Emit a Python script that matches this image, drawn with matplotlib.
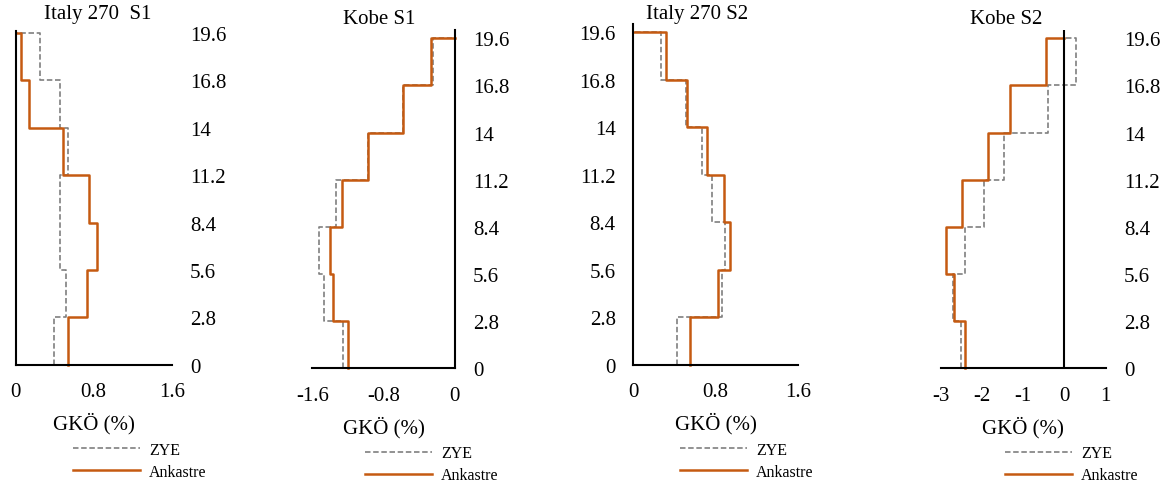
import numpy as np
import matplotlib
matplotlib.use("Agg")
import matplotlib.pyplot as plt

W, H = 1167, 489

# storey levels (m) and drift ratios (%) per storey, bottom to top
heights = [0, 2.8, 5.6, 8.4, 11.2, 14, 16.8, 19.6]
height_labels = ["0", "2.8", "5.6", "8.4", "11.2", "14", "16.8", "19.6"]

italy_s1_zye = [0.39, 0.52, 0.45, 0.45, 0.54, 0.45, 0.25]
italy_s1_ank = [0.54, 0.73, 0.83, 0.75, 0.48, 0.14, 0.05]

kobe_s1_zye = [-1.26, -1.47, -1.52, -1.33, -0.97, -0.58, -0.24]
kobe_s1_ank = [-1.20, -1.37, -1.40, -1.27, -0.97, -0.58, -0.27]

italy_s2_zye = [0.43, 0.86, 0.89, 0.77, 0.67, 0.51, 0.27]
italy_s2_ank = [0.55, 0.82, 0.94, 0.88, 0.72, 0.52, 0.32]

kobe_s2_zye = [-2.50, -2.71, -2.42, -1.94, -1.47, -0.41, 0.27]
kobe_s2_ank = [-2.41, -2.68, -2.86, -2.49, -1.86, -1.33, -0.44]

titles = ["Italy 270  S1", "Kobe S1", "Italy 270 S2", "Kobe S2"]
series_names = ["ZYE", "Ankastre"]

ZYE_COLOR = "#7f7f7f"
ANK_COLOR = "#c55a11"
FONT = "Liberation Serif"
FS = 15

plt.rcParams["font.family"] = [FONT, "DejaVu Serif"]

fig = plt.figure(figsize=(W / 100, H / 100), dpi=100)

# pixel layout per panel: x-left, x-right, y of 0, y of 19.6, y-top
panels = [
    dict(box=(15.7, 171.7, 365.7, 34.0, 32.0), xlim=(0, 1.6), xt=[0, 0.8, 1.6],
         xtl=["0", "0.8", "1.6"], side="right", spine="left", title_xy=(98, 15),
         xlab_y=424, leg=(73, 461.7), data=(italy_s1_zye, italy_s1_ank)),
    dict(box=(312.3, 454.7, 369.3, 39.3, 31.0), xlim=(-1.6, 0), xt=[-1.6, -0.8, 0],
         xtl=["-1.6", "-0.8", "0"], side="right", spine="right", title_xy=(379, 20),
         xlab_y=428, leg=(365, 465.3), data=(kobe_s1_zye, kobe_s1_ank)),
    dict(box=(633.3, 797.7, 365.7, 33.3, 25.0), xlim=(0, 1.6), xt=[0, 0.8, 1.6],
         xtl=["0", "0.8", "1.6"], side="left", spine="left", title_xy=(697, 14),
         xlab_y=424, leg=(680, 461.7), data=(italy_s2_zye, italy_s2_ank)),
    dict(box=(940.7, 1105.7, 369.3, 39.3, 31.0), xlim=(-3, 1), xt=[-3, -2, -1, 0, 1],
         xtl=["-3", "-2", "-1", "0", "1"], side="right", spine="zero", title_xy=(1006, 20),
         xlab_y=428, leg=(1005, 465.3), data=(kobe_s2_zye, kobe_s2_ank)),
]


def step_profile(values):
    xs = np.append(np.repeat(values, 2), 0.0)
    ys = np.repeat(heights, 2)[1:]
    return xs, ys


for p, title in zip(panels, titles):
    x0, x1, y0, y196, ytop = p["box"]
    ax = fig.add_axes([x0 / W, 1 - y0 / H, (x1 - x0) / W, (y0 - ytop) / H])
    ppu = (y0 - y196) / 19.6
    ax.set_xlim(*p["xlim"])
    ax.set_ylim(0, (y0 - ytop) / ppu)

    zye, ank = p["data"]
    xs, ys = step_profile(zye)
    ax.plot(xs, ys, color=ZYE_COLOR, lw=1.2, linestyle=(0, (3.3, 1.6)),
            label=series_names[0], clip_on=False)
    xs, ys = step_profile(ank)
    ax.plot(xs, ys, color=ANK_COLOR, lw=1.8, label=series_names[1], clip_on=False)

    for s in ax.spines.values():
        s.set_visible(False)
    ax.spines["bottom"].set_visible(True)
    ax.spines["bottom"].set_linewidth(1.5)
    if p["spine"] == "zero":
        ax.axvline(0, color="black", lw=1.5)
    else:
        ax.spines[p["spine"]].set_visible(True)
        ax.spines[p["spine"]].set_linewidth(1.5)

    ax.set_xticks(p["xt"])
    ax.set_xticklabels(p["xtl"], fontsize=FS)
    ax.set_yticks(heights)
    ax.set_yticklabels(height_labels, fontsize=FS)
    ax.tick_params(axis="x", length=0, pad=12.5)
    if p["side"] == "right":
        ax.tick_params(axis="y", length=0, labelleft=False, labelright=True, pad=13)
    else:
        ax.tick_params(axis="y", length=0, pad=12.7)
    ax.patch.set_visible(False)

    tx, ty = p["title_xy"]
    fig.text(tx / W, 1 - ty / H, title, fontsize=FS, ha="center", va="center")

    ax.set_xlabel("GKÖ (%)", fontsize=FS, va="center")
    ax.xaxis.set_label_coords(((x0 + x1) / 2) / W, 1 - p["xlab_y"] / H,
                              transform=fig.transFigure)

    lx, ly = p["leg"]
    ax.legend(loc="center left", bbox_to_anchor=(lx / W, 1 - ly / H),
              bbox_transform=fig.transFigure, frameon=False, fontsize=11.5,
              borderpad=0, borderaxespad=0, handlelength=4.2,
              handletextpad=0.56, labelspacing=0.38)

fig.savefig("out.png", dpi=100)
